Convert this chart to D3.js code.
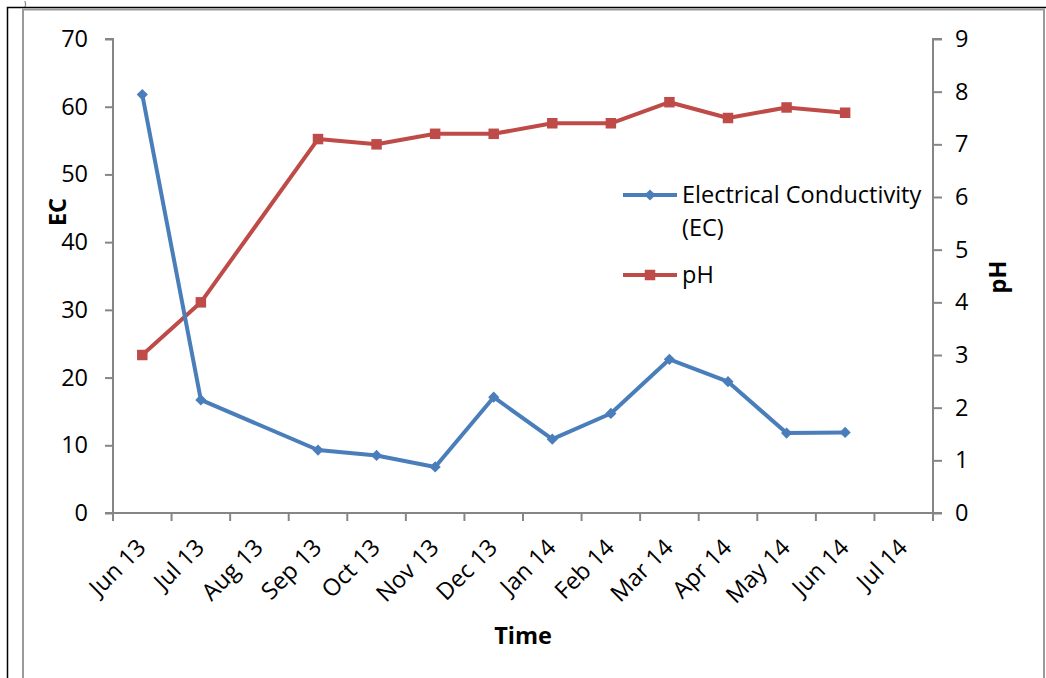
<!DOCTYPE html>
<html>
<head>
<meta charset="utf-8">
<script src="https://cdn.jsdelivr.net/npm/d3@7"></script>
<style>
  html, body { margin: 0; padding: 0; background: #fff; }
  svg { display: block; }
  text { font-family: "Open Sans", "Liberation Sans", sans-serif; fill: #000; }
</style>
</head>
<body>
<svg id="chart" width="1046" height="678"></svg>
<script>
// Monthly sampling: electrical conductivity and pH
const months = ["Jun 13", "Jul 13", "Aug 13", "Sep 13", "Oct 13", "Nov 13", "Dec 13",
                "Jan 14", "Feb 14", "Mar 14", "Apr 14", "May 14", "Jun 14", "Jul 14"];
const ecValues = [61.8, 16.7, null, 9.3, 8.5, 6.8, 17.1, 10.9, 14.7, 22.7, 19.4, 11.8, 11.9, null];
const phValues = [3.0, 4.0, null, 7.1, 7.0, 7.2, 7.2, 7.4, 7.4, 7.8, 7.5, 7.7, 7.6, null];
const ecTicks = [0, 10, 20, 30, 40, 50, 60, 70];
const phTicks = [0, 1, 2, 3, 4, 5, 6, 7, 8, 9];
const seriesNames = ["Electrical Conductivity", "(EC)", "pH"];

const svg = d3.select("#chart");
const axisColor = "#868686";
const ecColor = "#4A7EBB";
const phColor = "#BE4B48";
const fs = 23.5;

const plot = { left: 113, right: 933, top: 39, bottom: 513 };

const x = d3.scaleBand().domain(months).range([plot.left, plot.right]).padding(0);
const yEC = d3.scaleLinear().domain([0, 70]).range([plot.bottom, plot.top]);
const yPH = d3.scaleLinear().domain([0, 9]).range([plot.bottom, plot.top]);

// Outer frames
svg.append("text").attr("x", 24).attr("y", 5.5).attr("font-size", 7).text(")");
svg.append("path").attr("d", "M7.5,690 V7.5 H1060")
  .attr("fill", "none").attr("stroke", "#000").attr("stroke-width", 1.5);
svg.append("path").attr("d", "M23,690 V9.5 H1044 V690")
  .attr("fill", "none").attr("stroke", "#9a9a9a").attr("stroke-width", 2);

// Left axis
const gL = svg.append("g").attr("transform", `translate(${plot.left},0)`)
  .call(d3.axisLeft(yEC).tickValues(ecTicks).tickSize(8).tickPadding(17).tickFormat(d3.format("d")));
// Right axis
const gR = svg.append("g").attr("transform", `translate(${plot.right},0)`)
  .call(d3.axisRight(yPH).tickValues(phTicks).tickSize(9).tickPadding(13).tickFormat(d3.format("d")));
[gL, gR].forEach(g => {
  g.select(".domain").attr("stroke", axisColor).attr("stroke-width", 2);
  g.selectAll(".tick line").attr("stroke", axisColor).attr("stroke-width", 2);
  g.selectAll(".tick text").attr("font-size", fs).attr("font-family", "'Open Sans', sans-serif").attr("fill", "#000");
});
gL.select(".domain").attr("d", `M-8,${plot.bottom}H0V${plot.top}H-8`);
gR.select(".domain").attr("d", `M9,${plot.bottom}H0V${plot.top}H9`);

// Bottom axis: ticks at category boundaries, labels at category centres
const gB = svg.append("g");
gB.append("line")
  .attr("x1", plot.left).attr("x2", plot.right)
  .attr("y1", plot.bottom).attr("y2", plot.bottom)
  .attr("stroke", axisColor).attr("stroke-width", 2);
const boundaries = months.map(m => x(m)).concat([x.range()[1]]);
gB.selectAll("line.tick").data(boundaries).join("line")
  .attr("class", "tick")
  .attr("x1", d => d).attr("x2", d => d)
  .attr("y1", plot.bottom).attr("y2", plot.bottom + 8)
  .attr("stroke", axisColor).attr("stroke-width", 2);
gB.selectAll("text").data(months).join("text")
  .attr("font-size", fs)
  .attr("text-anchor", "end")
  .attr("transform", d => `translate(${x(d) + x.bandwidth() / 2 + 5},${plot.bottom + 36}) rotate(-45)`)
  .text(d => d);

// Axis titles
svg.append("text").attr("font-size", fs).attr("font-weight", "bold").attr("text-anchor", "middle")
  .attr("transform", `translate(66,212) rotate(-90)`).text("EC");
svg.append("text").attr("font-size", fs).attr("font-weight", "bold").attr("text-anchor", "middle")
  .attr("transform", `translate(1006,277) rotate(-90)`).text("pH");
svg.append("text").attr("font-size", fs).attr("font-weight", "bold").attr("text-anchor", "middle")
  .attr("x", 523).attr("y", 644).text("Time");

// Series lines (gaps bridged, as in the source workbook)
const ecPts = months.map((m, i) => ({ m, v: ecValues[i] })).filter(d => d.v != null);
const phPts = months.map((m, i) => ({ m, v: phValues[i] })).filter(d => d.v != null);
const cx = d => x(d.m) + x.bandwidth() / 2;

const lineEC = d3.line().x(cx).y(d => yEC(d.v));
const linePH = d3.line().x(cx).y(d => yPH(d.v));

svg.append("path").datum(phPts).attr("d", linePH)
  .attr("fill", "none").attr("stroke", phColor).attr("stroke-width", 4).attr("stroke-linejoin", "round");
svg.append("path").datum(ecPts).attr("d", lineEC)
  .attr("fill", "none").attr("stroke", ecColor).attr("stroke-width", 4).attr("stroke-linejoin", "round");

const diamond = d3.symbol().type(d3.symbolDiamond2).size(80);
const square = d3.symbol().type(d3.symbolSquare).size(110);

svg.append("g").selectAll("path").data(phPts).join("path")
  .attr("d", square).attr("fill", phColor)
  .attr("transform", d => `translate(${cx(d)},${yPH(d.v)})`);
svg.append("g").selectAll("path").data(ecPts).join("path")
  .attr("d", diamond).attr("fill", ecColor)
  .attr("transform", d => `translate(${cx(d)},${yEC(d.v)})`);

// Legend
const lg = svg.append("g");
lg.append("line").attr("x1", 623).attr("x2", 677).attr("y1", 195).attr("y2", 195)
  .attr("stroke", ecColor).attr("stroke-width", 4);
lg.append("path").attr("d", diamond).attr("fill", ecColor).attr("transform", "translate(650,195)");
lg.append("text").attr("x", 682).attr("y", 203).attr("font-size", fs).text(seriesNames[0]);
lg.append("text").attr("x", 682).attr("y", 236).attr("font-size", fs).text(seriesNames[1]);
lg.append("line").attr("x1", 623).attr("x2", 677).attr("y1", 275).attr("y2", 275)
  .attr("stroke", phColor).attr("stroke-width", 4);
lg.append("path").attr("d", square).attr("fill", phColor).attr("transform", "translate(650,275)");
lg.append("text").attr("x", 682).attr("y", 283).attr("font-size", fs).text(seriesNames[2]);
</script>
</body>
</html>
